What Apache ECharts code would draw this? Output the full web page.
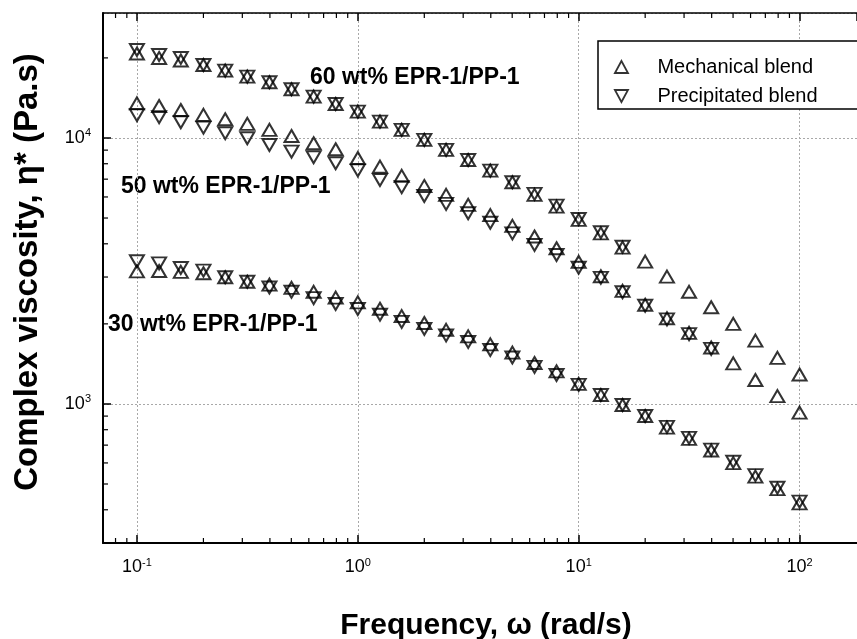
<!DOCTYPE html>
<html>
<head>
<meta charset="utf-8">
<script src="https://cdn.jsdelivr.net/npm/echarts@6/dist/echarts.min.js"></script>
<style>
  html, body { margin: 0; padding: 0; background: #fff; }
  #chart { width: 857px; height: 639px; }
</style>
</head>
<body>
<div id="chart"></div>
<script>
// frequency, rad/s (10 points per decade)
const freq = [0.1, 0.126, 0.158, 0.2, 0.251, 0.316, 0.398, 0.501, 0.631, 0.794,
  1, 1.26, 1.58, 2, 2.51, 3.16, 3.98, 5.01, 6.31, 7.94,
  10, 12.6, 15.8, 20, 25.1, 31.6, 39.8, 50.1, 63.1, 79.4, 100]

// complex viscosity, Pa.s
const mech60 = [20780, 19990, 19560, 18810, 17910, 17000, 16200, 15250, 14300, 13420,
  12560, 11520, 10720, 9830, 9015, 8260, 7540, 6815, 6110, 5520,
  4920, 4380, 3870, 3430, 3010, 2640, 2310, 2000, 1730, 1490, 1290]
const prec60 = [21420, 20510, 19990, 18810, 17910, 17000, 16200, 15250, 14300, 13420,
  12560, 11520, 10720, 9830, 9015, 8260, 7540, 6815, 6160, 5570,
  4960, 4420, 3900]
const mech50 = [13500, 13190, 12740, 12210, 11760, 11290, 10720, 10170, 9550, 9070,
  8410, 7800, 7200, 6600, 6110, 5600, 5130, 4670, 4260, 3850,
  3420, 3020, 2660, 2360, 2100, 1850, 1630, 1420, 1230, 1070, 927]
const prec50 = [12180, 11970, 11460, 10930, 10420, 9975, 9410, 8880, 8460, 8035,
  7550, 6950, 6530, 6050, 5650, 5210, 4800, 4380, 3960, 3630,
  3250, 2980, 2630, 2340, 2080, 1830, 1610]
const mech30 = [3150, 3160, 3135, 3100, 2995, 2880, 2810, 2730, 2640, 2510,
  2410, 2280, 2140, 2015, 1900, 1795, 1675, 1560, 1425, 1325,
  1190, 1080, 991, 901, 815, 739, 668, 599, 533, 478, 423]
const prec30 = [3440, 3375, 3245, 3170, 2995, 2880, 2740, 2640, 2500, 2375,
  2275, 2165, 2035, 1915, 1810, 1710, 1595, 1495, 1378, 1285,
  1180, 1080, 991, 901, 820, 745, 673, 606, 540, 484, 429]

const seriesLabels = ['60 wt% EPR-1/PP-1', '50 wt% EPR-1/PP-1', '30 wt% EPR-1/PP-1']
const legendNames = ['Mechanical blend', 'Precipitated blend']

// axis ranges and minor tick mantissas
const X_MIN = 0.0702, X_MAX = 182
const Y_MIN = 300, Y_MAX = 29500
const minorMantissa = [2, 3, 4, 5, 6, 7, 8, 9]
const decades = [0.01, 0.1, 1, 10, 100, 1000, 10000]

const FONT = '"Liberation Sans", Arial, Helvetica, sans-serif'

function pairs(ys) {
  return ys.map((v, i) => [freq[i], v])
}

function minorValues(lo, hi) {
  const out = []
  decades.forEach((d) => {
    minorMantissa.forEach((m) => {
      const v = d * m
      if (v > lo * 1.001 && v < hi * 0.999) out.push(v)
    })
  })
  return out
}

function powLabel(value) {
  const e = Math.log10(value)
  if (Math.abs(e - Math.round(e)) > 1e-6) return ''
  return '{b|10}{s|' + Math.round(e) + '}'
}

const labelRich = {
  b: { fontFamily: FONT, fontSize: 18, color: '#000' },
  s: { fontFamily: FONT, fontSize: 11, color: '#000', padding: [0, 0, 9, 0] }
}

const markerStyle = { color: 'rgba(0,0,0,0)', borderColor: '#000', borderWidth: 2 }

function markerSeries(name, data, down) {
  return {
    name,
    type: 'scatter',
    data: pairs(data),
    symbol: 'triangle',
    symbolSize: [14, 12],
    symbolRotate: down ? 180 : 0,
    itemStyle: markerStyle,
    emphasis: { disabled: true },
    z: 5
  }
}

const chart = echarts.init(document.getElementById('chart'), null, { renderer: 'canvas' })

const gridLine = { show: true, lineStyle: { color: '#a8a8a8', type: [2, 2], width: 1 } }

chart.setOption({
  animation: false,
  backgroundColor: '#fff',
  grid: { left: 103, top: 13, right: -3, bottom: 96 },
  legend: {
    orient: 'vertical',
    left: 598,
    top: 41,
    padding: [15, 300, 2, 16],
    itemGap: 7,
    itemWidth: 14,
    itemHeight: 12,
    backgroundColor: '#fff',
    borderColor: '#000',
    borderWidth: 1.5,
    borderRadius: 0,
    selectedMode: false,
    itemStyle: { color: 'rgba(0,0,0,0)', borderColor: '#000', borderWidth: 1.8 },
    textStyle: { fontFamily: FONT, fontSize: 20, color: '#000', lineHeight: 22, padding: [0, 0, 0, 24] },
    data: [
      { name: legendNames[0], icon: 'path://M6,0L12,11L0,11Z' },
      { name: legendNames[1], icon: 'path://M0,0L12,0L6,11Z' }
    ]
  },
  xAxis: [
    {
      type: 'log',
      logBase: 10,
      min: X_MIN,
      max: X_MAX,
      position: 'bottom',
      axisLine: { show: true, lineStyle: { color: '#000', width: 2 } },
      axisTick: { show: true, inside: true, length: 8, lineStyle: { color: '#000', width: 1.5 } },
      axisLabel: { formatter: powLabel, rich: labelRich, margin: 14, showMinLabel: false, showMaxLabel: false },
      splitLine: gridLine,
      minorTick: { show: false },
      minorSplitLine: { show: false }
    },
    {
      type: 'log',
      logBase: 10,
      min: X_MIN,
      max: X_MAX,
      position: 'top',
      axisLine: { show: true, lineStyle: { color: '#000', width: 1.5 } },
      axisTick: { show: true, inside: true, length: 8, lineStyle: { color: '#000', width: 1.5 } },
      axisLabel: { show: false },
      splitLine: { show: false }
    }
  ],
  yAxis: {
    type: 'log',
    logBase: 10,
    min: Y_MIN,
    max: Y_MAX,
    axisLine: { show: true, lineStyle: { color: '#000', width: 2 } },
    axisTick: { show: true, inside: true, length: 8, lineStyle: { color: '#000', width: 1.5 } },
    axisLabel: { formatter: powLabel, rich: labelRich, margin: 12, showMinLabel: false, showMaxLabel: false },
    splitLine: gridLine
  },
  graphic: [
    {
      type: 'text', x: 28, y: 272, rotation: Math.PI / 2,
      style: { text: 'Complex viscosity, η* (Pa.s)', font: 'bold 33px ' + FONT, fill: '#000', align: 'center', verticalAlign: 'middle' }
    },
    {
      type: 'text', x: 486, y: 626,
      style: { text: 'Frequency, ω (rad/s)', font: 'bold 30px ' + FONT, fill: '#000', align: 'center', verticalAlign: 'middle' }
    },
    {
      type: 'text', x: 310, y: 78,
      style: { text: seriesLabels[0], font: 'bold 23px ' + FONT, fill: '#000', align: 'left', verticalAlign: 'middle' }
    },
    {
      type: 'text', x: 121, y: 187,
      style: { text: seriesLabels[1], font: 'bold 23px ' + FONT, fill: '#000', align: 'left', verticalAlign: 'middle' }
    },
    {
      type: 'text', x: 108, y: 325,
      style: { text: seriesLabels[2], font: 'bold 23px ' + FONT, fill: '#000', align: 'left', verticalAlign: 'middle' }
    }
  ],
  series: [
    markerSeries(legendNames[0], mech60, false),
    markerSeries(legendNames[1], prec60, true),
    markerSeries(legendNames[0], mech50, false),
    markerSeries(legendNames[1], prec50, true),
    markerSeries(legendNames[0], mech30, false),
    markerSeries(legendNames[1], prec30, true),
    {
      // minor ticks on the frequency axis (bottom and top)
      type: 'custom',
      silent: true,
      data: minorValues(X_MIN, X_MAX).map((v) => [v, Y_MIN]),
      renderItem(params, api) {
        const x = api.coord([api.value(0), Y_MIN])[0]
        const cs = params.coordSys
        const st = { stroke: '#000', lineWidth: 1.2 }
        return {
          type: 'group',
          children: [
            { type: 'line', shape: { x1: x, y1: cs.y + cs.height, x2: x, y2: cs.y + cs.height - 5 }, style: st },
            { type: 'line', shape: { x1: x, y1: cs.y, x2: x, y2: cs.y + 5 }, style: st }
          ]
        }
      }
    },
    {
      // minor ticks on the viscosity axis
      type: 'custom',
      silent: true,
      data: minorValues(Y_MIN, Y_MAX).map((v) => [X_MIN, v]),
      renderItem(params, api) {
        const y = api.coord([X_MIN, api.value(1)])[1]
        const cs = params.coordSys
        return {
          type: 'line',
          shape: { x1: cs.x, y1: y, x2: cs.x + 5, y2: y },
          style: { stroke: '#000', lineWidth: 1.2 }
        }
      }
    }
  ]
})

window.addEventListener('resize', () => chart.resize())
</script>
</body>
</html>
